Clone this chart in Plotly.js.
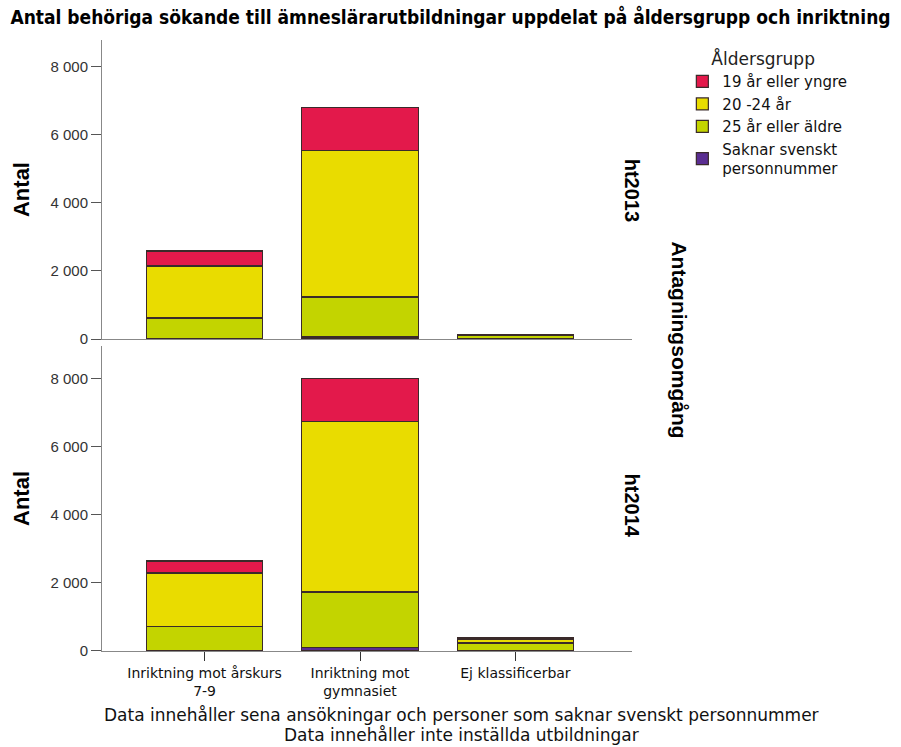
<!DOCTYPE html>
<html><head><meta charset="utf-8">
<script src="https://cdn.plot.ly/plotly-3.0.1.min.js"></script>
<style>body{margin:0;background:#fff}#c{width:901px;height:747px}</style>
</head><body><div id="c"></div>
<script>
const categories = ["Inriktning mot årskurs<br>7-9", "Inriktning mot<br>gymnasiet", "Ej klassificerbar"];
const groups = ["Saknar svenskt<br>personnummer", "25 år eller äldre", "20 -24 år", "19 år eller yngre"];
const colors = ["#5A2D91", "#C3D400", "#E9DC00", "#E3194B"];
// values per group (same order as groups), one entry per category
const ht2013 = [
  [15, 60, 5],
  [600, 1170, 100],
  [1525, 4310, 25],
  [440, 1260, 10]
];
const ht2014 = [
  [20, 100, 20],
  [690, 1630, 215],
  [1580, 5015, 105],
  [350, 1245, 40]
];
const panelLabels = ["ht2013", "ht2014"];
const yTicks = [0, 2000, 4000, 6000, 8000];
const footnotes = ["Data innehåller sena ansökningar och personer som saknar svenskt personnummer",
                   "Data innehåller inte inställda utbildningar"];

const COND = '"DejaVu Sans Condensed", "Liberation Sans Narrow", "Liberation Sans", Arial, sans-serif';
const DEJA = '"DejaVu Sans", "Liberation Sans", Arial, sans-serif';
const SANS = '"Liberation Sans", Arial, sans-serif';

const traces = [];
groups.forEach((g, i) => {
  traces.push({type:'bar', x:categories, y:ht2013[i], name:g, legendgroup:g,
    marker:{color:colors[i], line:{color:'#3a2a2a', width:1.2}}, width:0.75,
    xaxis:'x2', yaxis:'y2', showlegend:true, hoverinfo:'y'});
  traces.push({type:'bar', x:categories, y:ht2014[i], name:g, legendgroup:g,
    marker:{color:colors[i], line:{color:'#3a2a2a', width:1.2}}, width:0.75,
    xaxis:'x', yaxis:'y', showlegend:false, hoverinfo:'y'});
});

const yax = (dom, rng) => ({domain:dom, range:rng, tickvals:yTicks, tickformat:',d',
  showline:true, linecolor:'#888', linewidth:1, ticks:'outside', ticklen:10, tickcolor:'#555',
  showgrid:false, zeroline:false, tickfont:{family:SANS, size:15, color:'#333'},
  title:{text:'<b>Antal</b>', font:{family:SANS, size:22, color:'#000'}, standoff:14}});

const annotations = [
  {text:'<b>'+panelLabels[0]+'</b>', xref:'paper', yref:'paper', x:1.0, y:0.755, xanchor:'center', yanchor:'middle',
   textangle:90, showarrow:false, xshift:0, font:{family:SANS, size:20, color:'#000'}},
  {text:'<b>'+panelLabels[1]+'</b>', xref:'paper', yref:'paper', x:1.0, y:0.238, xanchor:'center', yanchor:'middle',
   textangle:90, showarrow:false, xshift:0, font:{family:SANS, size:20, color:'#000'}},
  {text:'<b>Antagningsomgång</b>', xref:'paper', yref:'paper', x:1.0, y:0.51, xanchor:'center', yanchor:'middle',
   textangle:90, showarrow:false, xshift:48, font:{family:SANS, size:21, color:'#000'}}
];
footnotes.forEach((t, i) => annotations.push({text:t, xref:'paper', yref:'paper', x:0.678, y:0,
  yshift:-64 - 20*i, xanchor:'center', yanchor:'middle', showarrow:false,
  font:{family:DEJA, size:17, color:'#111'}}));

const layout = {
  width:901, height:747, barmode:'stack',
  separators:', ',
  paper_bgcolor:'#fff', plot_bgcolor:'#fff',
  margin:{l:102, r:269, t:40, b:96},
  title:{text:'<b>Antal behöriga sökande till ämneslärarutbildningar uppdelat på åldersgrupp och inriktning</b>',
    font:{family:COND, size:19, color:'#000'}, x:0.5, xanchor:'center', y:0.977, yanchor:'middle'},
  xaxis:{anchor:'y', domain:[0,1], range:[-0.66, 2.75], showline:true, linecolor:'#888', linewidth:1,
    ticks:'outside', ticklen:9, tickcolor:'#333', showgrid:false,
    tickfont:{family:DEJA, size:14, color:'#111'}},
  xaxis2:{anchor:'y2', domain:[0,1], range:[-0.66, 2.75], showline:true, linecolor:'#888', linewidth:1,
    showticklabels:false, ticks:'', showgrid:false, matches:'x'},
  yaxis:yax([0, 0.4992], [0, 8950]),
  yaxis2:yax([0.5106, 1], [0, 8770]),
  legend:{x:1.095, xanchor:'left', y:0.995, yanchor:'top', traceorder:'reversed',
    title:{text:'&nbsp;&nbsp;&nbsp;&nbsp;&nbsp;Åldersgrupp', font:{family:DEJA, size:17, color:'#222'}},
    font:{family:DEJA, size:15, color:'#111'}, itemwidth:30, tracegroupgap:0, bgcolor:'rgba(0,0,0,0)'},
  annotations:annotations
};
Plotly.newPlot('c', traces, layout, {displayModeBar:false, staticPlot:true});
</script></body></html>
